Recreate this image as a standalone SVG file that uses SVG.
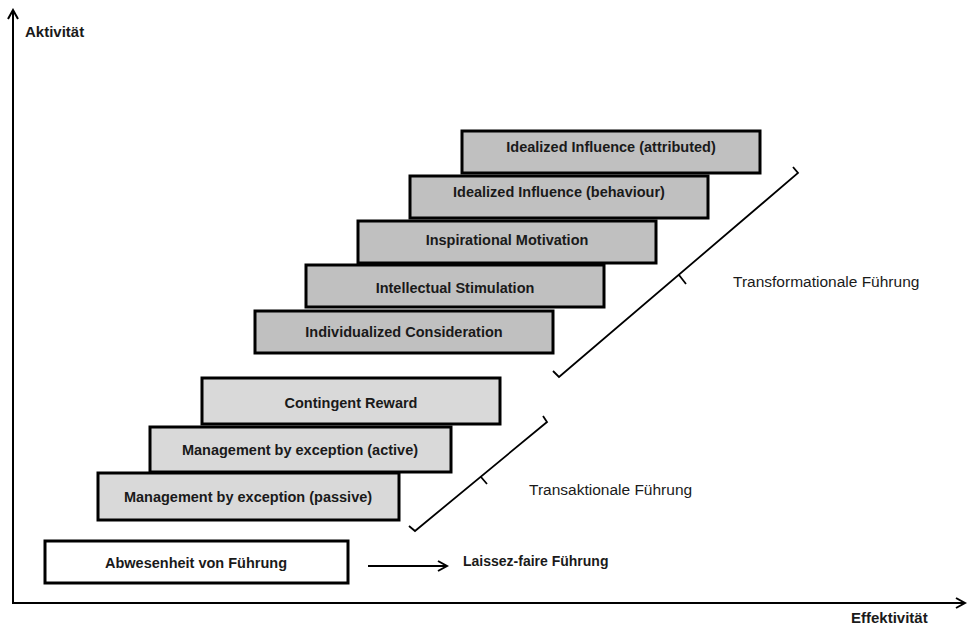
<svg xmlns="http://www.w3.org/2000/svg" width="969" height="625" viewBox="0 0 969 625">
<defs>
<marker id="arr" markerWidth="12" markerHeight="12" refX="10" refY="6" orient="auto" markerUnits="userSpaceOnUse">
<path d="M1,1 L10,6 L1,11" fill="none" stroke="#000" stroke-width="2"/>
</marker>
<style>
.box rect{stroke:#000;stroke-width:3}
.dark rect{fill:#c0c0c0}
.light rect{fill:#d9d9d9}
.white rect{fill:#fff}
text{font-family:"Liberation Sans",Arial,sans-serif;font-size:14.5px;fill:#1a1a1a}
.b{font-weight:bold}
.ax{font-size:15px}
.lab{font-size:15.5px}
.box text{text-anchor:middle;font-weight:bold}
.axis{stroke:#000;stroke-width:2;fill:none}
.br{stroke:#000;stroke-width:1.8;fill:none}
</style>
</defs>
<rect width="969" height="625" fill="#fff"/>
<g id="axes">
<line class="axis" x1="13" y1="603" x2="13" y2="10" marker-end="url(#arr)"/>
<line class="axis" x1="12" y1="603" x2="965" y2="603" marker-end="url(#arr)"/>
<text x="25" y="37" class="b ax">Aktivität</text>
<text x="851" y="623" class="b ax">Effektivität</text>
</g>
<g id="n1" class="box dark"><rect x="462" y="131" width="298" height="42"/><text x="611" y="152">Idealized Influence (attributed)</text></g>
<g id="n2" class="box dark"><rect x="410" y="176" width="298" height="42"/><text x="559" y="197">Idealized Influence (behaviour)</text></g>
<g id="n3" class="box dark"><rect x="358" y="221" width="298" height="42"/><text x="507" y="245">Inspirational Motivation</text></g>
<g id="n4" class="box dark"><rect x="306" y="265" width="298" height="42"/><text x="455" y="293">Intellectual Stimulation</text></g>
<g id="n5" class="box dark"><rect x="255" y="311" width="298" height="42"/><text x="404" y="337">Individualized Consideration</text></g>
<g id="n6" class="box light"><rect x="202" y="378" width="298" height="46"/><text x="351" y="408">Contingent Reward</text></g>
<g id="n7" class="box light"><rect x="150" y="427" width="301" height="45"/><text x="300" y="455">Management by exception (active)</text></g>
<g id="n8" class="box light"><rect x="98" y="473" width="301" height="47"/><text x="248" y="502">Management by exception (passive)</text></g>
<g id="n9" class="box white"><rect x="45" y="541" width="303" height="42"/><text x="196" y="568">Abwesenheit von Führung</text></g>
<g id="connectors">
<line x1="368" y1="566" x2="447" y2="566" stroke="#000" stroke-width="2" marker-end="url(#arr)"/>
<path class="br" d="M553,371 L559,377 L798,173 L793,167 M679,275 L686,284"/>
<path class="br" d="M409,526 L415,531 L547,422 L543,416 M481,477 L487,484"/>
</g>
<g id="labels">
<text x="733" y="287" class="lab">Transformationale Führung</text>
<text x="529" y="495" class="lab">Transaktionale Führung</text>
<text x="463" y="566" class="b" style="font-size:14px">Laissez-faire Führung</text>
</g>
</svg>
